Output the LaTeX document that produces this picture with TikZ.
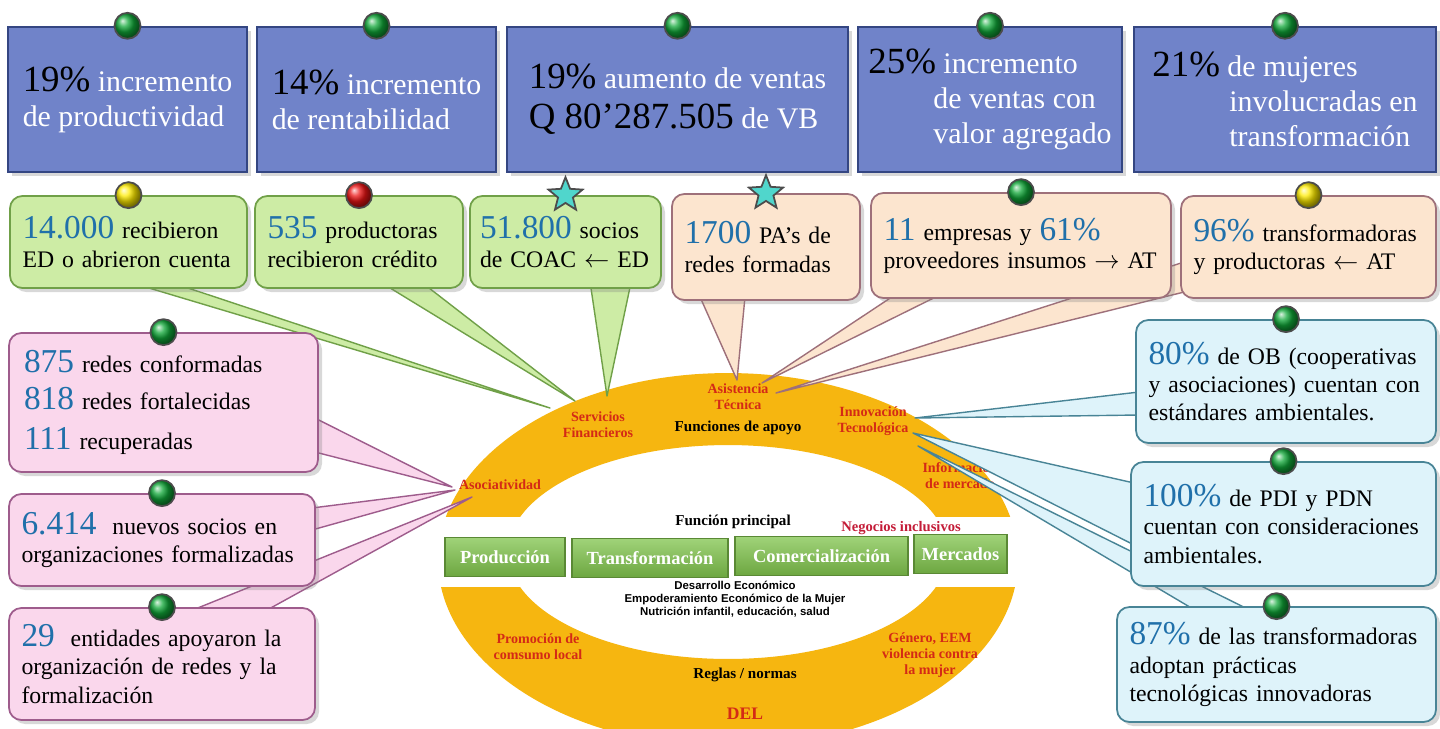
\documentclass[tikz,border=0pt]{standalone}
\usepackage{fontspec}
\setmainfont{Liberation Serif}
\setsansfont{Liberation Sans}
\usetikzlibrary{calc,shapes.geometric,shadows}

\definecolor{topblue}{RGB}{112,131,201}
\definecolor{topline}{RGB}{52,70,130}
\definecolor{greenfill}{RGB}{205,236,165}
\definecolor{greenline}{RGB}{112,160,72}
\definecolor{peachfill}{RGB}{252,229,207}
\definecolor{peachline}{RGB}{158,112,122}
\definecolor{pinkfill}{RGB}{250,215,236}
\definecolor{pinkline}{RGB}{158,92,140}
\definecolor{skyfill}{RGB}{222,243,250}
\definecolor{skyline}{RGB}{72,132,150}
\definecolor{numblue}{RGB}{32,112,170}
\definecolor{ringorange}{RGB}{246,182,16}
\definecolor{ringred}{RGB}{212,42,22}
\definecolor{incred}{RGB}{196,28,56}
\definecolor{chaingreen}{RGB}{128,196,76}
\definecolor{dotgreen}{RGB}{16,168,56}
\definecolor{dotyellow}{RGB}{255,236,0}
\definecolor{dotred}{RGB}{236,20,20}
\definecolor{starteal}{RGB}{80,214,204}

\newcommand{\cifra}[1]{{\color{numblue}\fontsize{19}{19}\selectfont #1}}
\newcommand{\cifrak}[1]{{\color{black}\fontsize{21}{21}\selectfont #1}}

\pgfdeclarelayer{ring}
\pgfdeclarelayer{tails}
\pgfsetlayers{ring,tails,main}

\tikzset{
  topbox/.style={rectangle, fill=topblue, draw=topline, line width=1.4pt,
    text=white, align=left, minimum height=2.9cm,
    font=\fontsize{17}{20}\selectfont, drop shadow={opacity=0.3}},
  cbox/.style={rectangle, rounded corners=7pt, line width=1pt, align=left,
    inner xsep=0.25cm, font=\fontsize{13.5}{16}\selectfont,
    drop shadow={opacity=0.3}},
  greenbox/.style={cbox, fill=greenfill, draw=greenline},
  peachbox/.style={cbox, fill=peachfill, draw=peachline},
  pinkbox/.style={cbox, fill=pinkfill, draw=pinkline},
  skybox/.style={cbox, fill=skyfill, draw=skyline},
  tailfill/.style={line width=0.8pt, line join=round},
  dotmark/.style={circle, minimum size=0.52cm, inner sep=0pt, draw=black!70,
    line width=1pt},
  starmark/.style={star, star points=5, star point ratio=2.3,
    minimum size=0.72cm, inner sep=0pt, fill=starteal, draw=black!70,
    line width=1pt},
  ringlabel/.style={text=ringred, font=\bfseries\fontsize{8}{9}\selectfont,
    align=center},
  ringtitle/.style={font=\bfseries\fontsize{8.6}{10}\selectfont, align=center},
  chainbox/.style={rectangle, top color=chaingreen!75!white,
    bottom color=chaingreen!85!black, draw=chaingreen!70!black,
    line width=0.6pt, text=white, font=\bfseries\fontsize{10.5}{12}\selectfont,
    minimum height=0.78cm},
}

\begin{document}
\begin{tikzpicture}[x=0.02cm, y=-0.02cm]
  \useasboundingbox (0,0) rectangle (1440,728);

  % Ring of functions
  \begin{pgfonlayer}{ring}
    \fill[white] (0,0) rectangle (1440,728);
    \fill[ringorange, even odd rule] (728,560) ellipse [x radius=5.8cm, y radius=3.74cm]
                                     (728,552) ellipse [x radius=4.4cm, y radius=2.14cm];
    \fill[white] (420,517) rectangle (1040,587);

    \node[ringlabel] (sf) at (598,425) {Servicios\\Financieros};
    \node[ringlabel] (asist) at (738,397) {Asistencia\\Técnica};
    \node[ringtitle] (fa) at (738,428) {Funciones de apoyo};
    \node[ringlabel] (innov) at (873,421) {Innovación\\Tecnológica};
    \node[ringlabel] (infm) at (960,476) {Información\\de mercado};
    \node[ringlabel] (asoc) at (500,485) {Asociatividad};

    \node[ringtitle] (fp) at (733,522) {Función principal};
    \node[ringlabel, text=incred, font=\bfseries\fontsize{8.3}{9}\selectfont] (ni) at (901,528) {Negocios inclusivos};

    \node[chainbox, minimum width=2.4cm] (prod) at (505,557) {Producción};
    \node[chainbox, minimum width=3.12cm] (trans) at (650,558) {Transformación};
    \node[chainbox, minimum width=3.46cm] (comer) at (821.5,556) {Comercialización};
    \node[chainbox, minimum width=1.86cm] (merc) at (960.5,554) {Mercados};

    \node[font=\sffamily\bfseries\fontsize{6.5}{7.5}\selectfont, align=center] (dev) at (735,599)
      {Desarrollo Económico\\Empoderamiento Económico de la Mujer\\Nutrición infantil, educación, salud};

    \node[ringlabel] (pc) at (538,647) {Promoción de\\comsumo local};
    \node[ringlabel] (gen) at (930,655) {Género, EEM\\violencia contra\\la mujer};
    \node[ringtitle] (rn) at (745,675) {Reglas / normas};
    \node[ringlabel, font=\bfseries\fontsize{10}{11}\selectfont] (del) at (745,714) {DEL};
  \end{pgfonlayer}

  % Tips of the callouts
  \coordinate (sfA) at (550,408);
  \coordinate (sfB) at (575,401);
  \coordinate (sfC) at (607,396);
  \coordinate (atA) at (737,380);
  \coordinate (atB) at (762,383);
  \coordinate (atC) at (776,393);
  \coordinate (asA) at (452,487);
  \coordinate (asB) at (455,490);
  \coordinate (asC) at (472,497);
  \coordinate (itA) at (915,418);
  \coordinate (itB) at (913,433);
  \coordinate (itC) at (918,446);

  % Results
  \node[topbox, minimum width=4.78cm] (t1) at (127.5,99.5)
    {\cifrak{19\%} incremento\\de productividad};
  \node[topbox, minimum width=4.78cm] (t2) at (376.5,99.5)
    {\cifrak{14\%} incremento\\de rentabilidad};
  \node[topbox, minimum width=6.82cm] (t3) at (677.5,99.5)
    {\cifrak{19\%} aumento de ventas\\[3pt]\cifrak{Q 80’287.505} de VB};
  \node[topbox, minimum width=5.28cm] (t4) at (990,99.5)
    {\cifrak{25\%} incremento\\\hspace*{1.3cm}de ventas con\\\hspace*{1.3cm}valor agregado};
  \node[topbox, minimum width=6.04cm] (t5) at (1285,99.5)
    {\cifrak{21\%} de mujeres\\\hspace*{1.54cm}involucradas en\\\hspace*{1.54cm}transformación};

  % Support functions, top
  \node[greenbox, minimum width=4.74cm, minimum height=1.84cm, text width=4.24cm] (g1) at (128.5,242)
    {\cifra{14.000} recibieron\\ED o abrieron cuenta};
  \node[greenbox, minimum width=4.16cm, minimum height=1.84cm, text width=3.66cm] (g2) at (359,242)
    {\cifra{535} productoras\\recibieron crédito};
  \node[greenbox, minimum width=3.82cm, minimum height=1.84cm, text width=3.42cm, inner xsep=0.2cm] (g3) at (565.5,242)
    {\cifra{51.800} socios\\de COAC $\leftarrow$ ED};
  \node[peachbox, minimum width=3.76cm, minimum height=2.12cm, text width=3.26cm] (p1) at (766,247)
    {\cifra{1700} PA’s de\\redes formadas};
  \node[peachbox, minimum width=6cm, minimum height=2.1cm, text width=5.5cm] (p2) at (1021,245.5)
    {\cifra{11} empresas y \cifra{61\%}\\proveedores insumos $\rightarrow$ AT};
  \node[peachbox, minimum width=5.1cm, minimum height=2.04cm, text width=4.6cm] (p3) at (1308.5,247)
    {\cifra{96\%} transformadoras\\y productoras $\leftarrow$ AT};

  % Support functions, left
  \node[pinkbox, minimum width=6.18cm, minimum height=2.78cm, text width=5.58cm, inner xsep=0.3cm,
        font=\fontsize{13.5}{21}\selectfont] (l1) at (163.5,402.5)
    {\cifra{875} redes conformadas\\\cifra{818} redes fortalecidas\\[2pt]\cifra{111} recuperadas};
  \node[pinkbox, minimum width=6.12cm, minimum height=1.84cm, text width=5.62cm] (l2) at (162,540)
    {\cifra{6.414}\ \ nuevos socios en\\organizaciones formalizadas};
  \node[pinkbox, minimum width=6.12cm, minimum height=2.24cm, text width=5.62cm] (l3) at (162,664)
    {\cifra{29}\ \ entidades apoyaron la\\organización de redes y la\\formalización};

  % Support functions, right
  \node[skybox, minimum width=6cm, minimum height=2.46cm, text width=5.5cm] (r1) at (1286,381.5)
    {\cifra{80\%} de OB (cooperativas\\y asociaciones) cuentan con\\estándares ambientales.};
  \node[skybox, minimum width=6.1cm, minimum height=2.48cm, text width=5.6cm] (r2) at (1283.5,524)
    {\cifra{100\%} de PDI y PDN\\cuentan con consideraciones\\ambientales.};
  \node[skybox, minimum width=6.38cm, minimum height=2.3cm, text width=5.88cm] (r3) at (1276.5,664.5)
    {\cifra{87\%} de las transformadoras\\adoptan prácticas\\tecnológicas innovadoras};

  % Callout tails
  \begin{pgfonlayer}{tails}
    \filldraw[tailfill, fill=greenfill, draw=greenline] ($(g1.south)+(10,-4)$) -- (sfA) -- ($(g1.south)+(50,-4)$) -- cycle;
    \filldraw[tailfill, fill=greenfill, draw=greenline] ($(g2.south)+(26,-4)$) -- (sfB) -- ($(g2.south)+(66,-4)$) -- cycle;
    \filldraw[tailfill, fill=greenfill, draw=greenline] ($(g3.south)+(25,-4)$) -- (sfC) -- ($(g3.south)+(65,-4)$) -- cycle;

    \filldraw[tailfill, fill=peachfill, draw=peachline] ($(p1.south)+(-66,-4)$) -- (atA) -- ($(p1.south)+(-21,-4)$) -- cycle;
    \filldraw[tailfill, fill=peachfill, draw=peachline] ($(p2.south)+(-126,-4)$) -- (atB) -- ($(p2.south)+(-81,-4)$) -- cycle;
    \filldraw[tailfill, fill=peachfill, draw=peachline] ($(p3.west)+(4,15)$) -- (atC) -- ($(p3.west)+(4,45)$) -- cycle;

    \filldraw[tailfill, fill=pinkfill, draw=pinkline] ($(l1.east)+(-4,15.5)$) -- (asA) -- ($(l1.east)+(-4,49.5)$) -- cycle;
    \filldraw[tailfill, fill=pinkfill, draw=pinkline] ($(l2.east)+(-4,-32)$) -- (asB) -- ($(l2.east)+(-4,-10)$) -- cycle;
    \filldraw[tailfill, fill=pinkfill, draw=pinkline] ($(l3.north)+(28,4)$) -- (asC) -- ($(l3.north)+(103,4)$) -- cycle;

    \filldraw[tailfill, fill=skyfill, draw=skyline] ($(r1.west)+(4,10.5)$) -- (itA) -- ($(r1.west)+(4,33.5)$) -- cycle;
    \filldraw[tailfill, fill=skyfill, draw=skyline] ($(r2.west)+(4,-41)$) -- (itB) -- ($(r2.west)+(4,21)$) -- cycle;
    \filldraw[tailfill, fill=skyfill, draw=skyline] ($(r3.north)+(-81.5,4)$) -- (itC) -- ($(r3.north)+(-26.5,4)$) -- cycle;
  \end{pgfonlayer}

  % Status marks
  \node[dotmark, ball color=dotgreen] (mt1) at (t1.north) {};
  \node[dotmark, ball color=dotgreen] (mt2) at (t2.north) {};
  \node[dotmark, ball color=dotgreen] (mt3) at (t3.north) {};
  \node[dotmark, ball color=dotgreen] (mt4) at (t4.north) {};
  \node[dotmark, ball color=dotgreen] (mt5) at (t5.north) {};
  \node[dotmark, ball color=dotyellow] (mg1) at (g1.north) {};
  \node[dotmark, ball color=dotred] (mg2) at (g2.north) {};
  \node[starmark] (mg3) at (g3.north) {};
  \node[starmark] (mp1) at (p1.north) {};
  \node[dotmark, ball color=dotgreen] (mp2) at (p2.north) {};
  \node[dotmark, ball color=dotyellow] (mp3) at (p3.north) {};
  \node[dotmark, ball color=dotgreen] (ml1) at (l1.north) {};
  \node[dotmark, ball color=dotgreen] (ml2) at (l2.north) {};
  \node[dotmark, ball color=dotgreen] (ml3) at (l3.north) {};
  \node[dotmark, ball color=dotgreen] (mr1) at (r1.north) {};
  \node[dotmark, ball color=dotgreen] (mr2) at (r2.north) {};
  \node[dotmark, ball color=dotgreen] (mr3) at (r3.north) {};
\end{tikzpicture}
\end{document}
